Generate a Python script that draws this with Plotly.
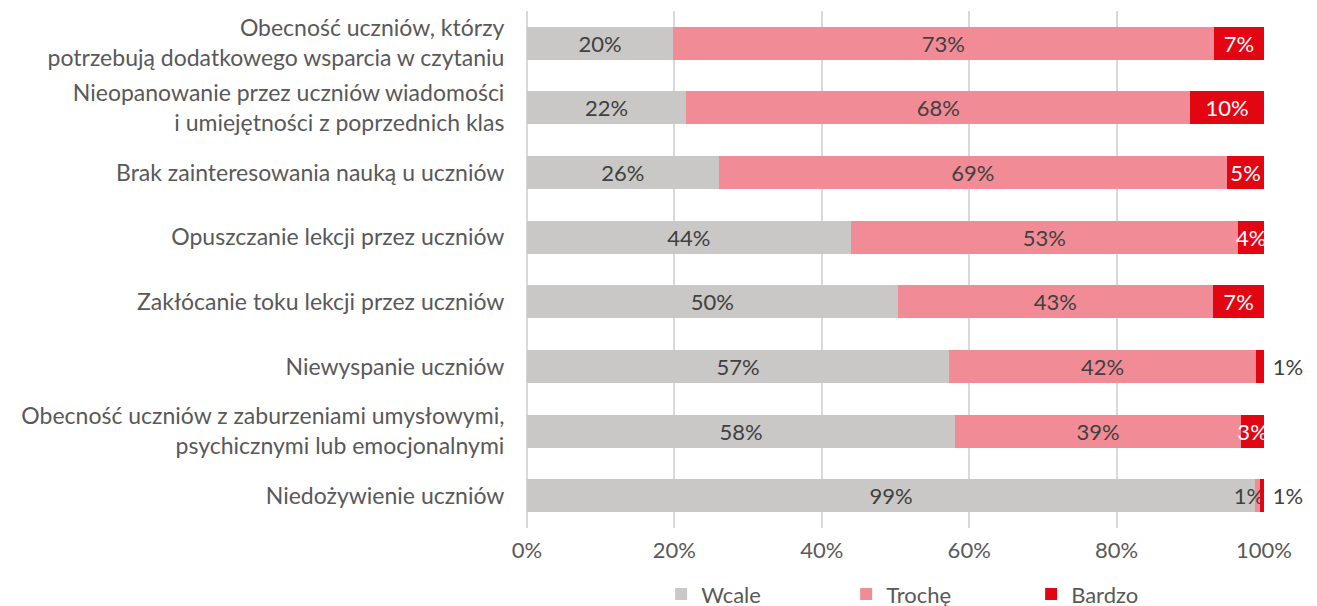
import plotly.graph_objects as go

categories = [
    "Obecność uczniów, którzy<br>potrzebują dodatkowego wsparcia w czytaniu",
    "Nieopanowanie przez uczniów wiadomości<br>i umiejętności z poprzednich klas",
    "Brak zainteresowania nauką u uczniów",
    "Opuszczanie lekcji przez uczniów",
    "Zakłócanie toku lekcji przez uczniów",
    "Niewyspanie uczniów",
    "Obecność uczniów z zaburzeniami umysłowymi,<br>psychicznymi lub emocjonalnymi",
    "Niedożywienie uczniów",
]
wcale = [19.8, 21.6, 26.0, 43.9, 50.3, 57.3, 58.1, 98.8]
troche = [73.4, 68.4, 69.0, 52.6, 42.8, 41.6, 38.8, 0.6]
bardzo = [6.8, 10.0, 5.0, 3.5, 6.9, 1.1, 3.1, 0.6]
series_names = ["Wcale", "Trochę", "Bardzo"]
tick_vals = [0, 20, 40, 60, 80, 100]
tick_text = ["0%", "20%", "40%", "60%", "80%", "100%"]

FONT = "Lato"
FS = 22
colors = ["#C9C8C6", "#F18C97", "#E20613"]
label_colors = ["#404040", "#404040", "#FFFFFF"]
NB = "\u00a0"

fig = go.Figure()
for name, vals, col, lc in zip(series_names, [wcale, troche, bardzo], colors, label_colors):
    if name == "Bardzo":
        pos = ["outside" if v < 2 else "inside" for v in vals]
        txt = [(NB if v < 2 else "") + f"{round(v):d}%" for v in vals]
    else:
        pos = "inside"
        txt = [f"{round(v):d}%" + (NB * 3 if v < 2 else "") for v in vals]
    fig.add_trace(go.Bar(
        y=categories, x=vals, name=name, orientation="h",
        marker=dict(color=col, line=dict(width=0)),
        text=txt,
        textposition=pos,
        insidetextanchor="middle",
        textangle=0,
        constraintext="none",
        cliponaxis=False,
        insidetextfont=dict(family=FONT, size=FS, color=lc),
        outsidetextfont=dict(family=FONT, size=FS, color="#404040"),
        hoverinfo="skip",
    ))

fig.update_layout(
    barmode="stack",
    bargap=0.49,
    width=1317, height=640,
    margin=dict(l=519, r=61, t=3, b=120),
    paper_bgcolor="white", plot_bgcolor="white",
    font=dict(family=FONT, size=FS, color="#595959"),
    showlegend=True,
    legend=dict(orientation="h", x=0.182, xanchor="left", y=-0.128, yanchor="middle",
                font=dict(family=FONT, size=FS, color="#595959"),
                traceorder="normal", entrywidth=140, entrywidthmode="pixels"),
    xaxis=dict(range=[0, 100], tickvals=tick_vals, ticktext=tick_text,
               showgrid=True, gridcolor="#D9D9D9", gridwidth=1.5,
               zeroline=True, zerolinecolor="#D9D9D9", zerolinewidth=1.5,
               showline=False, ticks="outside", ticklen=3, tickcolor="rgba(0,0,0,0)",
               tickfont=dict(family=FONT, size=FS, color="#595959")),
    yaxis=dict(autorange="reversed", showgrid=False, zeroline=False, showline=False,
               ticks="outside", ticklen=17, tickcolor="rgba(0,0,0,0)",
               tickfont=dict(family=FONT, size=23, color="#595959")),
)

fig.write_html("out.html")
